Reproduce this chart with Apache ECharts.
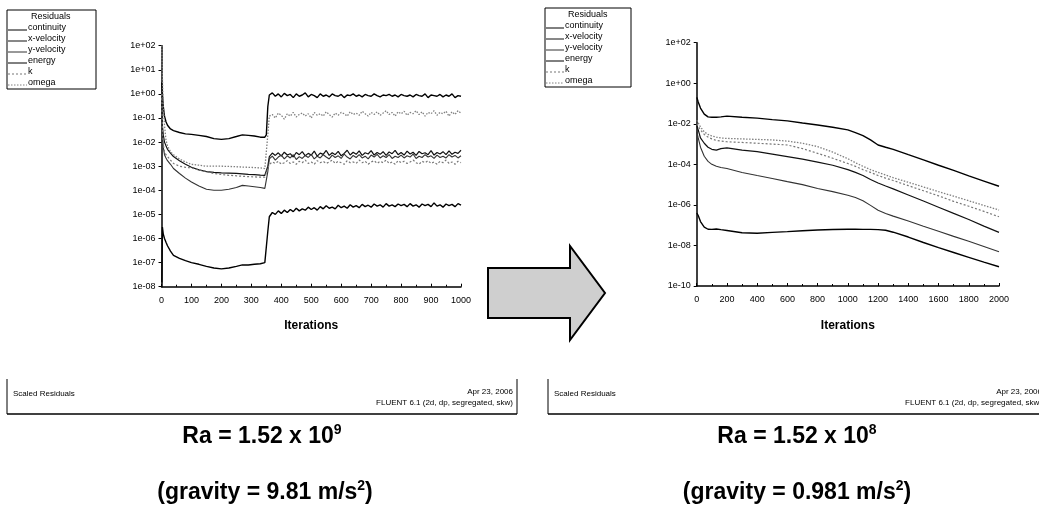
<!DOCTYPE html>
<html><head><meta charset="utf-8">
<script src="https://cdn.jsdelivr.net/npm/echarts@6/dist/echarts.min.js"></script>
<style>html,body{margin:0;padding:0;background:#fff}#c{width:1039px;height:512px}</style>
</head><body><div id="c"></div>
<script>
// ---------- DATA ----------
const seriesNames = ['continuity','x-velocity','y-velocity','energy','k','omega'];
const legendTitle = 'Residuals';
const xAxisName = 'Iterations';
const footerLeft = 'Scaled Residuals';
const footerDate = 'Apr 23, 2006';
const footerSolver = 'FLUENT 6.1 (2d, dp, segregated, skw)';
const captionRa = ['Ra = 1.52 x 10', 'Ra = 1.52 x 10'];
const captionRaExp = ['9', '8'];
const captionGravity = ['(gravity = 9.81 m/s', '(gravity = 0.981 m/s'];

// tick values
const leftYTicks = [1e2,1e1,1e0,1e-1,1e-2,1e-3,1e-4,1e-5,1e-6,1e-7,1e-8];
const rightYTicks = [1e2,1e0,1e-2,1e-4,1e-6,1e-8,1e-10];

// Left plot (Ra = 1.52e9), iterations
const leftIter = [1,3,6,10,15,20,30,40,60,80,100,125,150,175,200,225,250,270,290,310,330,345,350,355,
  360,370,380,390,400,410,420,430,440,450,
  460,470,480,490,500,510,520,530,540,550,
  560,570,580,590,600,610,620,630,640,650,
  660,670,680,690,700,710,720,730,740,750,
  760,770,780,790,800,810,820,830,840,850,
  860,870,880,890,900,910,920,930,940,950,
  960,970,980,990,1000];
const leftContinuity = [3,1,0.3,0.12,0.07,0.05,0.035,0.03,0.025,0.022,0.021,0.019,0.017,0.014,0.013,0.014,0.017,0.02,0.019,0.018,0.016,0.016,0.02,0.3,
  0.9,1.1,0.8,1.0,0.75,1.05,0.85,0.95,0.7,1.0,
  0.8,0.9,1.1,0.75,0.95,0.85,0.7,1.0,0.8,0.9,
  0.75,1.0,0.85,0.8,0.95,0.7,0.9,0.85,1.0,0.8,
  0.9,0.75,0.95,0.85,0.8,1.0,0.85,0.75,0.9,0.85,
  0.95,0.8,0.9,0.75,0.95,0.85,0.8,0.9,0.75,0.95,
  0.85,0.8,1.0,0.7,0.9,0.85,0.8,0.95,0.75,0.9,
  0.8,1.0,0.7,0.85,0.8];
const leftXVel = [0.5,0.05,0.02,0.01,0.007,0.005,0.0035,0.0025,0.0017,0.0012,0.0009,0.0007,0.0006,0.00055,0.00053,0.00052,0.0005,0.00048,0.00046,0.00045,0.00043,0.00042,0.0004,0.001,
  2.5e-3,3.5e-3,2.8e-3,3.6e-3,2.6e-3,3.8e-3,2.9e-3,3.3e-3,2.4e-3,3.7e-3,
  3.0e-3,4.0e-3,2.7e-3,3.4e-3,2.9e-3,4.2e-3,2.6e-3,3.5e-3,3.1e-3,4.5e-3,
  2.8e-3,3.6e-3,3.0e-3,4.1e-3,2.7e-3,3.4e-3,4.6e-3,2.9e-3,3.8e-3,3.1e-3,
  4.3e-3,2.8e-3,3.6e-3,3.2e-3,4.4e-3,2.9e-3,3.7e-3,3.1e-3,4.0e-3,2.8e-3,
  3.9e-3,3.3e-3,4.5e-3,3.0e-3,3.7e-3,2.9e-3,4.2e-3,3.2e-3,3.8e-3,2.8e-3,
  4.1e-3,3.3e-3,3.6e-3,3.0e-3,4.4e-3,2.9e-3,3.7e-3,3.2e-3,4.0e-3,3.0e-3,
  4.3e-3,3.1e-3,3.8e-3,3.4e-3,4.6e-3];
const leftYVel = [0.3,0.02,0.006,0.003,0.0022,0.0017,0.0012,0.0008,0.0005,0.00032,0.00022,0.00015,0.00011,0.0001,0.0001,0.00011,0.00013,0.00016,0.00015,0.00014,0.00013,0.00012,0.00012,0.0006,
  2.0e-3,2.6e-3,1.8e-3,2.4e-3,2.9e-3,2.0e-3,2.7e-3,2.2e-3,3.0e-3,1.9e-3,
  2.5e-3,2.1e-3,2.8e-3,2.3e-3,3.1e-3,2.0e-3,2.6e-3,2.2e-3,3.0e-3,2.4e-3,
  2.0e-3,2.9e-3,2.3e-3,2.7e-3,2.1e-3,3.2e-3,2.4e-3,2.0e-3,2.8e-3,2.3e-3,
  3.0e-3,2.2e-3,2.6e-3,2.0e-3,2.9e-3,2.4e-3,3.1e-3,2.2e-3,2.7e-3,2.3e-3,
  3.0e-3,2.1e-3,2.6e-3,2.3e-3,2.9e-3,2.2e-3,2.7e-3,2.4e-3,3.2e-3,2.1e-3,
  2.6e-3,2.3e-3,3.0e-3,2.4e-3,2.7e-3,2.1e-3,2.9e-3,2.3e-3,2.6e-3,2.2e-3,
  3.0e-3,2.4e-3,2.8e-3,2.2e-3,2.7e-3];
const leftEnergy = [1.5e-8,3e-6,1.5e-6,1e-6,7e-7,5e-7,3e-7,2e-7,1.5e-7,1.2e-7,1e-7,8.5e-8,7e-8,6e-8,5.5e-8,6e-8,7e-8,8e-8,8e-8,8.5e-8,9e-8,1e-7,1.2e-7,2e-6,
  0.8e-5,1.2e-5,1.0e-5,1.4e-5,1.1e-5,1.5e-5,1.2e-5,1.6e-5,1.3e-5,1.8e-5,
  1.4e-5,1.7e-5,1.5e-5,2.0e-5,1.6e-5,1.9e-5,1.5e-5,2.1e-5,1.7e-5,2.3e-5,
  1.8e-5,2.0e-5,1.7e-5,2.4e-5,1.9e-5,2.2e-5,1.8e-5,2.5e-5,2.0e-5,2.3e-5,
  1.9e-5,2.6e-5,2.1e-5,2.4e-5,2.0e-5,2.7e-5,2.2e-5,2.5e-5,2.0e-5,2.8e-5,
  2.2e-5,2.5e-5,2.1e-5,2.7e-5,2.3e-5,2.6e-5,2.1e-5,2.8e-5,2.2e-5,2.5e-5,
  2.0e-5,2.7e-5,2.3e-5,2.6e-5,2.1e-5,3.0e-5,2.2e-5,2.5e-5,2.0e-5,2.7e-5,
  2.3e-5,2.6e-5,2.1e-5,2.8e-5,2.4e-5];
const leftK = [1,0.03,0.008,0.004,0.003,0.0025,0.0018,0.0013,0.001,0.0009,0.00085,0.0007,0.0006,0.0005,0.00045,0.00042,0.0004,0.00038,0.00037,0.00036,0.00035,0.00035,0.00035,0.0008,
  1.2e-3,1.5e-3,1.3e-3,1.6e-3,1.2e-3,1.4e-3,1.7e-3,1.3e-3,1.5e-3,1.2e-3,
  1.6e-3,1.4e-3,1.8e-3,1.3e-3,1.5e-3,1.2e-3,1.7e-3,1.4e-3,1.6e-3,1.3e-3,
  1.5e-3,1.8e-3,1.3e-3,1.6e-3,1.4e-3,1.2e-3,1.7e-3,1.4e-3,1.5e-3,1.3e-3,
  1.8e-3,1.4e-3,1.6e-3,1.2e-3,1.5e-3,1.7e-3,1.3e-3,1.6e-3,1.4e-3,1.8e-3,
  1.3e-3,1.5e-3,1.2e-3,1.7e-3,1.4e-3,1.6e-3,1.3e-3,1.5e-3,1.8e-3,1.4e-3,
  1.2e-3,1.6e-3,1.4e-3,1.7e-3,1.3e-3,1.5e-3,1.2e-3,1.6e-3,1.4e-3,1.8e-3,
  1.3e-3,1.5e-3,1.2e-3,1.6e-3,1.4e-3];
const leftOmega = [100,5,0.3,0.05,0.012,0.007,0.004,0.003,0.002,0.0015,0.0012,0.0011,0.001,0.001,0.001,0.00098,0.00095,0.00092,0.0009,0.00088,0.00085,0.0008,0.0008,0.02,
  0.12,0.14,0.10,0.16,0.13,0.09,0.15,0.12,0.17,0.11,
  0.14,0.16,0.12,0.15,0.10,0.17,0.13,0.15,0.12,0.18,
  0.14,0.11,0.16,0.13,0.17,0.15,0.12,0.18,0.14,0.16,
  0.13,0.19,0.15,0.12,0.17,0.14,0.18,0.13,0.16,0.20,
  0.14,0.17,0.12,0.18,0.15,0.19,0.13,0.17,0.15,0.20,
  0.14,0.18,0.12,0.17,0.15,0.20,0.13,0.17,0.15,0.19,
  0.12,0.18,0.14,0.20,0.16];

// Right plot (Ra = 1.52e8)
const rightIter = [1,10,25,50,75,100,130,160,200,300,400,500,600,700,800,900,1000,1050,1100,1150,1200,1250,1300,1400,1500,1600,1700,1800,1900,2000];
const rightContinuity = [0.2,0.12,0.06,0.03,0.022,0.021,0.021,0.022,0.024,0.021,0.019,0.016,0.014,0.011,0.0087,0.0068,0.005,0.0037,0.0026,0.0016,0.0009,0.0007,0.00055,0.0003,0.000165,0.00009,0.00005,0.000027,0.000015,0.0000083];
const rightXVel = [0.008,0.005,0.002,0.0011,0.0007,0.00055,0.0005,0.0006,0.00065,0.0005,0.00042,0.00032,0.00024,0.00018,0.00013,0.00009,0.000055,0.00004,0.000028,0.000018,0.000012,0.0000085,0.0000062,0.0000031,0.00000155,0.00000077,0.00000038,0.00000019,0.00000009,0.000000044];
const rightYVel = [0.004,0.002,0.0007,0.00025,0.00014,0.0001,0.00008,0.00007,0.000062,0.00004,0.000028,0.00002,0.000014,0.00001,0.0000065,0.0000045,0.000003,0.0000023,0.0000016,0.00000095,0.00000055,0.00000038,0.00000028,0.00000016,0.000000089,0.00000005,0.000000028,0.000000016,0.0000000088,0.0000000049];
const rightEnergy = [4e-7,3e-7,1.5e-7,8e-8,6.3e-8,6.2e-8,6.5e-8,6e-8,5.5e-8,4.2e-8,4e-8,4.4e-8,4.8e-8,5.3e-8,5.8e-8,6.1e-8,6.3e-8,6.3e-8,6.2e-8,6.2e-8,6e-8,5.6e-8,4.5e-8,2.6e-8,1.4e-8,7.8e-9,4.5e-9,2.6e-9,1.5e-9,8.9e-10];
const rightK = [0.01,0.008,0.005,0.003,0.0022,0.0018,0.0015,0.0014,0.0013,0.0012,0.0011,0.001,0.0009,0.0006,0.00035,0.0002,0.00011,0.00008,0.000055,0.00004,0.000028,0.000021,0.000016,0.0000089,0.000005,0.0000028,0.0000015,0.00000086,0.00000048,0.00000026];
const rightOmega = [0.015,0.012,0.007,0.004,0.003,0.0025,0.0022,0.002,0.0019,0.0018,0.0017,0.0016,0.0014,0.0011,0.00075,0.0004,0.00019,0.00012,0.00008,0.000055,0.00004,0.00003,0.000022,0.000013,0.0000077,0.0000045,0.0000027,0.0000016,0.00000094,0.00000056];

// ---------- BUILD ----------
const FONT = '"Liberation Sans", Arial, sans-serif';
function pairs(xs, ys){ return xs.map((x,i)=>[x, ys[i]]); }
function expFmt(v){ const e = Math.round(Math.log10(v)); const a = Math.abs(e); return '1e' + (e<0?'-':'+') + (a<10?'0':'') + a; }

const styles = {
  'continuity': {color:'#000', type:'solid', width:1.4},
  'x-velocity': {color:'#111', type:'solid', width:1.2},
  'y-velocity': {color:'#333', type:'solid', width:1.1},
  'energy':     {color:'#000', type:'solid', width:1.4},
  'k':          {color:'#777', type:[2,2], width:1.2},
  'omega':      {color:'#808080', type:[1.5,1.5], width:1.3}
};
const leftData = {'continuity':leftContinuity,'x-velocity':leftXVel,'y-velocity':leftYVel,'energy':leftEnergy,'k':leftK,'omega':leftOmega};
const rightData = {'continuity':rightContinuity,'x-velocity':rightXVel,'y-velocity':rightYVel,'energy':rightEnergy,'k':rightK,'omega':rightOmega};

const series = [];
seriesNames.forEach(n=>{
  series.push({type:'line', name:n, xAxisIndex:0, yAxisIndex:0, showSymbol:false, symbol:'none',
    data:pairs(leftIter, leftData[n]), lineStyle:{color:styles[n].color, type:styles[n].type, width:styles[n].width}, z:3});
  series.push({type:'line', name:n, xAxisIndex:1, yAxisIndex:1, showSymbol:false, symbol:'none',
    data:pairs(rightIter, rightData[n]), lineStyle:{color:styles[n].color, type:styles[n].type, width:styles[n].width}, z:3});
});

function xAx(gi, max, interval, gap){
  return {gridIndex:gi, type:'value', min:0, max:max, interval:interval,
    axisLine:{show:true, onZero:false, lineStyle:{color:'#000', width:1.5}},
    axisTick:{show:true, inside:true, length:3, lineStyle:{color:'#000'}},
    minorTick:{show:true, splitNumber:2, length:2, lineStyle:{color:'#000'}},
    splitLine:{show:false},
    axisLabel:{fontSize:9, color:'#000', fontFamily:FONT, margin:9, formatter:function(v){return String(v);}},
    name:xAxisName, nameLocation:'middle', nameGap:gap,
    nameTextStyle:{fontSize:12, fontWeight:'bold', color:'#000', fontFamily:FONT}};
}
function yAx(gi, min, max, ticks){
  return {gridIndex:gi, type:'log', logBase:10, min:min, max:max,
    axisLine:{show:true, onZero:false, lineStyle:{color:'#000', width:1.5}},
    axisTick:{show:true, length:3, lineStyle:{color:'#000'}, customValues:ticks},
    splitLine:{show:false}, minorTick:{show:false},
    axisLabel:{fontSize:9, color:'#000', fontFamily:FONT, margin:6, formatter:expFmt, customValues:ticks}};
}

// legend graphics
function legendGraphics(x0, y0, w, h, rowY, lineX1, lineX2, textX){
  const g = [];
  g.push({type:'rect', shape:{x:x0, y:y0, width:w, height:h}, style:{fill:'#fff', stroke:'#000', lineWidth:1}});
  g.push({type:'text', style:{text:legendTitle, x:textX+3, y:rowY[0], font:'9px '+FONT, fill:'#000', verticalAlign:'middle', textVerticalAlign:'middle'}});
  seriesNames.forEach((n,i)=>{
    const y = rowY[i+1];
    const st = styles[n];
    g.push({type:'line', shape:{x1:lineX1, y1:y+2, x2:lineX2, y2:y+2}, style:{stroke:st.color, lineWidth:1, lineDash: Array.isArray(st.type)? st.type : null}});
    g.push({type:'text', style:{text:n, x:textX, y:y, font:'9px '+FONT, fill:'#000', verticalAlign:'middle', textVerticalAlign:'middle'}});
  });
  return g;
}
const graphics = [];
graphics.push(...legendGraphics(7, 10, 89, 79, [17,28,39,50,61,72,83], 8, 27, 28));
graphics.push(...legendGraphics(545, 8, 86, 79, [15,26,37,48,59,70,81], 546, 564, 565));

// arrow
graphics.push({type:'polygon', shape:{points:[[488,268],[570,268],[570,246],[605,293],[570,340],[570,318],[488,318]]},
  style:{fill:'#cfcfcf', stroke:'#000', lineWidth:2}});

// footer boxes
function footer(x1, x2, yTop, yBot, textR, showRight){
  const g = [];
  g.push({type:'line', shape:{x1:x1, y1:yTop, x2:x1, y2:yBot}, style:{stroke:'#000', lineWidth:1}});
  g.push({type:'line', shape:{x1:x1, y1:yBot, x2:x2, y2:yBot}, style:{stroke:'#000', lineWidth:1.5}});
  if (showRight) g.push({type:'line', shape:{x1:x2, y1:yTop, x2:x2, y2:yBot}, style:{stroke:'#000', lineWidth:1}});
  g.push({type:'text', style:{text:footerLeft, x:x1+6, y:yTop+15, font:'8px '+FONT, fill:'#000', verticalAlign:'middle', textVerticalAlign:'middle'}});
  g.push({type:'text', style:{text:footerDate, x:textR, y:yTop+13, font:'8px '+FONT, fill:'#000', align:'right', textAlign:'right', verticalAlign:'middle', textVerticalAlign:'middle'}});
  g.push({type:'text', style:{text:footerSolver, x:textR, y:yTop+24, font:'8px '+FONT, fill:'#000', align:'right', textAlign:'right', verticalAlign:'middle', textVerticalAlign:'middle'}});
  return g;
}
graphics.push(...footer(7, 517, 379, 414, 513, true));
graphics.push(...footer(548, 1039, 379, 414, 1042, false));

// captions
const richCap = {a:{fontSize:23, fontWeight:'bold', fontFamily:FONT, fill:'#000', lineHeight:28},
                 s:{fontSize:14, fontWeight:'bold', fontFamily:FONT, fill:'#000', verticalAlign:'top', lineHeight:28}};
function capText(cx, y, txt){
  return {type:'text', style:{text:txt, x:cx, y:y, align:'center', textAlign:'center', verticalAlign:'middle', textVerticalAlign:'middle', rich:richCap}};
}
graphics.push(capText(262, 437, '{a|'+captionRa[0]+'}{s|'+captionRaExp[0]+'}'));
graphics.push(capText(265, 493, '{a|'+captionGravity[0]+'}{s|2}{a|)}'));
graphics.push(capText(797, 437, '{a|'+captionRa[1]+'}{s|'+captionRaExp[1]+'}'));
graphics.push(capText(797, 493, '{a|'+captionGravity[1]+'}{s|2}{a|)}'));

const chart = echarts.init(document.getElementById('c'), null, {renderer:'canvas'});
chart.setOption({
  animation:false,
  backgroundColor:'#fff',
  textStyle:{fontFamily:FONT},
  grid:[
    {left:161.5, top:45.7, width:299.5, height:241, containLabel:false, outerBoundsMode:'none'},
    {left:696.7, top:42.7, width:302.3, height:243.3, containLabel:false, outerBoundsMode:'none'}
  ],
  xAxis:[xAx(0,1000,100,33), xAx(1,2000,200,34)],
  yAxis:[yAx(0,1e-8,1e2,leftYTicks), yAx(1,1e-10,1e2,rightYTicks)],
  series:series,
  graphic:graphics
});
</script></body></html>
